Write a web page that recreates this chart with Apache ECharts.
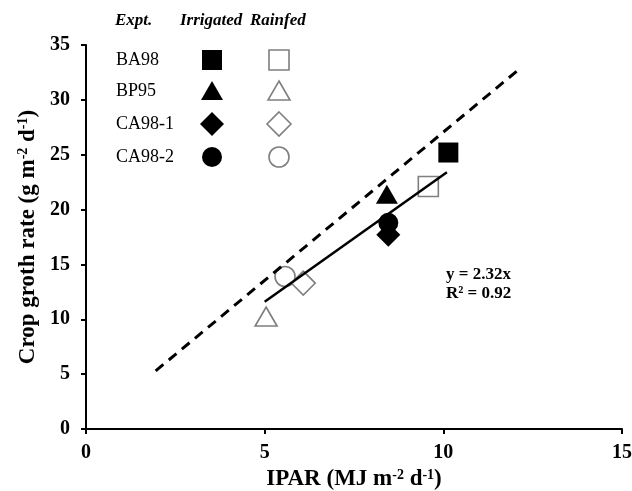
<!DOCTYPE html>
<html>
<head>
<meta charset="utf-8">
<script src="https://cdn.jsdelivr.net/npm/echarts@6/dist/echarts.min.js"></script>
<style>
  html, body { margin: 0; padding: 0; background: #fff; }
  #chart { width: 632px; height: 491px; }
</style>
</head>
<body>
<div id="chart"></div>
<script>
const expts = ['BA98', 'BP95', 'CA98-1', 'CA98-2']
const symbols = ['rect', 'triangle', 'diamond', 'circle']
const irrigatedIpar = [10.14, 8.42, 8.46, 8.46]
const irrigatedCgr = [25.2, 21.4, 17.7, 18.8]
const rainfedIpar = [9.58, 5.04, 6.08, 5.57]
const rainfedCgr = [22.1, 10.25, 13.3, 13.9]
// fitted line y = 2.32x and the dashed reference line, endpoints
const fitLine = [[5.0, 11.6], [10.1, 23.4]]
const dashLine = [[1.95, 5.3], [12.05, 32.6]]

const serif = '"Liberation Serif", "DejaVu Serif", serif'
const symSize = { rect: 20, triangle: [22, 19], diamond: 24, circle: 20 }
const grey = '#7f7f7f'

const chart = echarts.init(document.getElementById('chart'))

const series = []
expts.forEach((name, i) => {
  series.push({
    name: name + ' irrigated',
    type: 'scatter',
    symbol: symbols[i],
    symbolSize: symSize[symbols[i]],
    itemStyle: { color: '#000', opacity: 1 },
    data: [[irrigatedIpar[i], irrigatedCgr[i]]],
    z: 3,
  })
  series.push({
    name: name + ' rainfed',
    type: 'scatter',
    symbol: symbols[i],
    symbolSize: symSize[symbols[i]],
    itemStyle: { color: '#fff', borderColor: grey, borderWidth: 1.6, opacity: 1 },
    data: [[rainfedIpar[i], rainfedCgr[i]]],
    z: 3,
  })
})
series.push({
  name: 'fit',
  type: 'line',
  symbol: 'none',
  lineStyle: { color: '#000', width: 2.5 },
  data: fitLine,
  z: 4,
})
series.push({
  name: 'ref',
  type: 'line',
  symbol: 'none',
  lineStyle: { color: '#000', width: 3, type: [10, 7] },
  data: dashLine,
  z: 4,
})

// legend drawn as graphics: row label, filled (irrigated) and open (rainfed) symbol
const rowY = [60, 91, 124, 157]
const colFilled = 212
const colOpen = 279
function legendShape(kind, cx, cy, filled) {
  const style = filled
    ? { fill: '#000' }
    : { fill: '#fff', stroke: grey, lineWidth: 1.6 }
  if (kind === 'rect') return { type: 'rect', shape: { x: cx - 10, y: cy - 10, width: 20, height: 20 }, style }
  if (kind === 'triangle') return { type: 'polygon', shape: { points: [[cx, cy - 10], [cx + 11, cy + 9], [cx - 11, cy + 9]] }, style }
  if (kind === 'diamond') return { type: 'polygon', shape: { points: [[cx, cy - 12], [cx + 12, cy], [cx, cy + 12], [cx - 12, cy]] }, style }
  return { type: 'circle', shape: { cx, cy, r: 10 }, style }
}
const graphics = [
  { type: 'text', left: 115, top: 12, style: { text: 'Expt.', font: 'italic bold 17px ' + serif, fill: '#000' } },
  { type: 'text', left: 180, top: 12, style: { text: 'Irrigated', font: 'italic bold 17px ' + serif, fill: '#000' } },
  { type: 'text', left: 250, top: 12, style: { text: 'Rainfed', font: 'italic bold 17px ' + serif, fill: '#000' } },
  { type: 'text', left: 446, top: 266, style: { text: 'y = 2.32x', font: 'bold 17px ' + serif, fill: '#000' } },
  { type: 'text', left: 446, top: 285, style: { text: 'R² = 0.92', font: 'bold 17px ' + serif, fill: '#000' } },
]
expts.forEach((name, i) => {
  graphics.push({ type: 'text', x: 116, y: rowY[i], style: { text: name, font: '18px ' + serif, fill: '#000', verticalAlign: 'middle' } })
  graphics.push(legendShape(symbols[i], colFilled, rowY[i], true))
  graphics.push(legendShape(symbols[i], colOpen, rowY[i], false))
})

const axisCommon = {
  type: 'value',
  interval: 5,
  splitLine: { show: false },
  axisLine: { onZero: false, lineStyle: { color: '#000', width: 2 } },
  axisTick: { inside: false, length: 5, lineStyle: { color: '#000', width: 2 } },
  axisLabel: { color: '#000', fontFamily: serif, fontWeight: 'bold', fontSize: 20 },
  nameLocation: 'middle',
}
const titleRich = {
  t: { fontFamily: serif, fontWeight: 'bold', fontSize: 23, color: '#000' },
  s: { fontFamily: serif, fontWeight: 'bold', fontSize: 14, color: '#000', verticalAlign: 'top', padding: [0, 0, 9, 0] },
}

chart.setOption({
  backgroundColor: '#fff',
  animation: false,
  grid: { left: 86, right: 10, top: 45, bottom: 62, containLabel: false, outerBoundsMode: 'none' },
  xAxis: Object.assign({}, axisCommon, {
    min: 0, max: 15,
    axisLabel: Object.assign({}, axisCommon.axisLabel, { margin: 14 }),
    name: '{t|IPAR (MJ m}{s|-2}{t| d}{s|-1}{t|)}',
    nameGap: 37,
    nameTextStyle: { rich: titleRich },
  }),
  yAxis: Object.assign({}, axisCommon, {
    min: 0, max: 35,
    axisLabel: Object.assign({}, axisCommon.axisLabel, { margin: 16 }),
    name: '{t|Crop groth rate (g m}{s|-2}{t| d}{s|-1}{t|)}',
    nameGap: 42,
    nameRotate: 90,
    nameTextStyle: { rich: titleRich },
  }),
  graphic: graphics,
  series,
})
</script>
</body>
</html>
